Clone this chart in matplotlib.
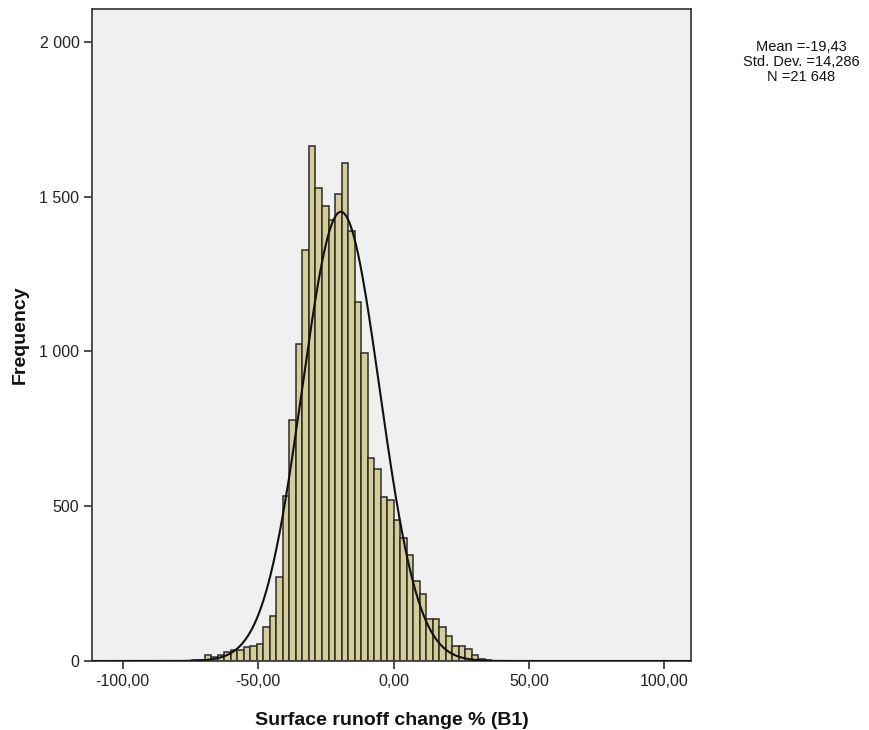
import numpy as np
import matplotlib
matplotlib.use("Agg")
import matplotlib.pyplot as plt
from matplotlib.ticker import FuncFormatter

plt.rcParams['font.family'] = ['Liberation Sans', 'DejaVu Sans']

# histogram bins: first bin starts at -74.4, width 2.4
bin_width = 2.4
first_bin = -31
freq = [2, 3, 19, 12, 20, 28, 34, 37, 44, 50, 56,
        110, 146, 272, 532, 780,
        1024, 1326, 1665, 1527, 1468,
        1425, 1509, 1607, 1390, 1161,
        995, 657, 620, 529, 519,
        454, 397, 341, 257, 217,
        136, 136, 109, 82, 50,
        47, 39, 18, 5]

# a few isolated values far in the right tail
tail_bins = [14, 15, 17, 20, 24, 29, 33, 40]
tail_freq = [2, 1, 1, 1, 1, 1, 1, 1]

mean_val = -19.43
std_val = 14.286
n_val = 21648

x_ticks = [-100, -50, 0, 50, 100]
y_ticks = [0, 500, 1000, 1500, 2000]

bar_fill = '#D3CE97'
bar_edge = '#2B2B2B'
frame = '#404040'

fig = plt.figure(figsize=(8.7, 7.3), dpi=100)
ax = fig.add_axes([0.1057, 0.0945, 0.6886, 0.8928])
ax.set_facecolor('#F0F0F0')

lefts = (np.arange(len(freq)) + first_bin) * bin_width
ax.bar(lefts, freq, width=bin_width, align='edge', color=bar_fill,
       edgecolor=bar_edge, linewidth=1.1, zorder=2)
tail_lefts = np.array(tail_bins) * bin_width
ax.bar(tail_lefts, tail_freq, width=bin_width, align='edge', color=bar_fill,
       edgecolor=bar_edge, linewidth=1.1, zorder=2)

# fitted normal curve scaled to counts
xs = np.linspace(-111.3, 109.8, 800)
pdf = np.exp(-0.5 * ((xs - mean_val) / std_val) ** 2) / (std_val * np.sqrt(2 * np.pi))
ax.plot(xs, n_val * bin_width * pdf, color='#111111', linewidth=1.5, zorder=3)

ax.set_xlim(-111.3, 109.8)
ax.set_ylim(0, 2105)
ax.set_xticks(x_ticks)
ax.set_yticks(y_ticks)


def fmt_x(v, pos):
    return f"{v:.2f}".replace('.', ',')


def fmt_y(v, pos):
    return f"{int(v):,}".replace(',', ' ')


ax.xaxis.set_major_formatter(FuncFormatter(fmt_x))
ax.yaxis.set_major_formatter(FuncFormatter(fmt_y))
ax.tick_params(axis='both', direction='out', length=6, width=1.3,
               color=frame, labelsize=11.5, labelcolor='#222222', pad=3)
for s in ax.spines.values():
    s.set_color(frame)
    s.set_linewidth(1.3)

ax.set_xlabel('Surface runoff change % (B1)', fontsize=14, fontweight='bold',
              color='#111111', labelpad=17)
fig.text(20 / 870, 1 - 335 / 730, 'Frequency', rotation=90, ha='center',
         va='center', fontsize=14, fontweight='bold', color='#111111')

mean_txt = f"{mean_val:.2f}".replace('.', ',')
std_txt = f"{std_val:.3f}".replace('.', ',')
n_txt = f"{n_val:,}".replace(',', ' ')
stats = f"Mean ={mean_txt}\nStd. Dev. ={std_txt}\nN ={n_txt}"
fig.text(0.921, 0.915, stats, ha='center', va='center', fontsize=10.5,
         linespacing=1.12, color='#111111')

fig.savefig('out.png', dpi=100, facecolor='white')
